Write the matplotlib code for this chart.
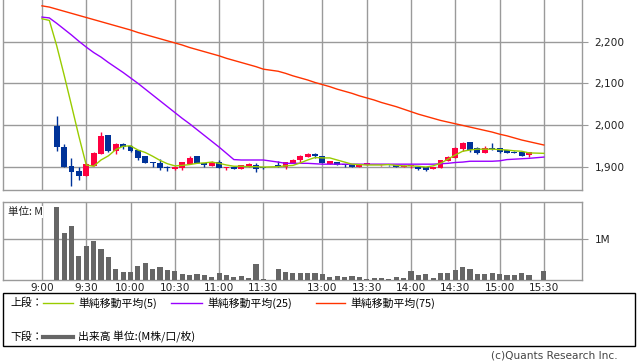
import matplotlib
matplotlib.use("Agg")
import matplotlib.pyplot as plt
from matplotlib.patches import Rectangle
from matplotlib.lines import Line2D
from matplotlib.ticker import FuncFormatter

plt.rcParams['font.family'] = ['DejaVu Sans', 'Noto Sans CJK JP']

# ---------------- data ----------------
candle_times = ['9:10', '9:15', '9:20', '9:25', '9:30', '9:35', '9:40', '9:45', '9:50', '9:55',
                '10:00', '10:05', '10:10', '10:15', '10:20', '10:25', '10:30', '10:35', '10:40', '10:45',
                '10:50', '10:55', '11:00', '11:05', '11:10', '11:15', '11:20', '11:25', '11:30',
                '12:30', '12:35', '12:40', '12:45', '12:50', '12:55', '13:00', '13:05', '13:10', '13:15',
                '13:20', '13:25', '13:30', '13:35', '13:40', '13:45', '13:50', '13:55', '14:00', '14:05',
                '14:10', '14:15', '14:20', '14:25', '14:30', '14:35', '14:40', '14:45', '14:50', '14:55',
                '15:00', '15:05', '15:10', '15:15', '15:20', '15:30']
opens = [1998, 1948, 1901, 1890, 1878, 1902, 1930, 1976, 1938, 1954,
         1950, 1940, 1926, 1911, 1910, 1900, 1895, 1898, 1907, 1926,
         1909, 1902, 1911, 1897, 1900, 1895, 1900, 1905, 1899,
         1905, 1899, 1908, 1915, 1924, 1930, 1926, 1906, 1911, 1906,
         1905, 1900, 1903, 1904, 1903, 1905, 1903, 1900, 1901, 1900,
         1899, 1894, 1898, 1914, 1921, 1943, 1959, 1944, 1934, 1946,
         1944, 1940, 1936, 1936, 1927, 1931]
highs = [2022, 1954, 1920, 1899, 1908, 1936, 1984, 1976, 1957, 1958,
         1951, 1941, 1926, 1912, 1918, 1901, 1901, 1912, 1926, 1926,
         1910, 1914, 1915, 1900, 1901, 1904, 1910, 1910, 1899,
         1914, 1911, 1919, 1928, 1932, 1932, 1926, 1914, 1911, 1906,
         1905, 1906, 1908, 1905, 1904, 1905, 1904, 1903, 1905, 1900,
         1899, 1900, 1916, 1925, 1948, 1960, 1959, 1948, 1950, 1956,
         1946, 1941, 1938, 1936, 1935, 1931]
lows = [1938, 1900, 1854, 1868, 1877, 1902, 1930, 1935, 1931, 1942,
        1936, 1917, 1908, 1900, 1892, 1890, 1893, 1892, 1906, 1908,
        1899, 1902, 1896, 1893, 1894, 1895, 1900, 1887, 1895,
        1900, 1894, 1908, 1908, 1924, 1922, 1908, 1906, 1903, 1900,
        1900, 1900, 1903, 1903, 1902, 1902, 1900, 1900, 1898, 1893,
        1889, 1894, 1898, 1914, 1921, 1938, 1936, 1930, 1934, 1940,
        1933, 1934, 1932, 1926, 1924, 1930]
closes = [1948, 1900, 1888, 1878, 1906, 1932, 1974, 1938, 1954, 1948,
          1938, 1922, 1910, 1908, 1898, 1896, 1900, 1911, 1922, 1910,
          1904, 1911, 1896, 1900, 1895, 1903, 1907, 1895, 1896,
          1900, 1911, 1916, 1925, 1930, 1926, 1908, 1914, 1903, 1903,
          1900, 1906, 1908, 1903, 1903, 1903, 1900, 1902, 1904, 1894,
          1891, 1900, 1916, 1924, 1944, 1958, 1940, 1932, 1944, 1943,
          1935, 1934, 1934, 1926, 1935, 1930]
volumes = [1.77, 1.14, 1.31, 0.59, 0.83, 0.95, 0.75, 0.56, 0.27, 0.20,
           0.20, 0.34, 0.42, 0.27, 0.32, 0.24, 0.21, 0.14, 0.13, 0.14,
           0.12, 0.08, 0.18, 0.12, 0.08, 0.10, 0.06, 0.39, 0.02,
           0.26, 0.20, 0.16, 0.16, 0.16, 0.16, 0.14, 0.08, 0.10, 0.08,
           0.10, 0.08, 0.03, 0.06, 0.06, 0.03, 0.08, 0.04, 0.22, 0.13,
           0.14, 0.06, 0.16, 0.18, 0.24, 0.32, 0.27, 0.15, 0.14, 0.17,
           0.15, 0.13, 0.13, 0.18, 0.13, 0.22]

ma_times = ['9:00', '9:05'] + candle_times
ma5 = [2255, 2251, 2190, 2120, 2047, 1973, 1904, 1901, 1916, 1926, 1941, 1949,
       1950, 1940, 1934, 1925, 1915, 1907, 1902, 1903, 1905, 1908,
       1909, 1911, 1908, 1904, 1901, 1901, 1900, 1900, 1899,
       1900, 1902, 1903, 1909, 1916, 1922, 1921, 1921, 1916, 1911,
       1906, 1905, 1904, 1904, 1904, 1905, 1903, 1902, 1902, 1901,
       1899, 1902, 1908, 1918, 1928, 1937, 1940, 1942, 1942, 1942,
       1941, 1940, 1938, 1937, 1933, 1932]
ma25 = [2259, 2257, 2244, 2230, 2216, 2201, 2187, 2174, 2163, 2150, 2138, 2126,
        2113, 2100, 2086, 2072, 2058, 2044, 2030, 2016, 2003, 1989,
        1975, 1961, 1947, 1932, 1917, 1916, 1916, 1916, 1916,
        1911, 1908, 1908, 1908, 1908, 1907, 1906, 1906, 1906, 1906,
        1906, 1906, 1906, 1906, 1906, 1906, 1906, 1906, 1906, 1906,
        1906, 1906, 1907, 1908, 1910, 1911, 1913, 1913, 1913, 1913,
        1914, 1917, 1918, 1919, 1920, 1923]
ma75 = [2286, 2283, 2278, 2273, 2268, 2263, 2258, 2253, 2248, 2243, 2238, 2233,
        2228, 2222, 2217, 2212, 2207, 2202, 2197, 2192, 2186, 2181,
        2176, 2171, 2166, 2160, 2155, 2150, 2145, 2140, 2134,
        2129, 2124, 2118, 2113, 2108, 2102, 2097, 2092, 2086, 2081,
        2076, 2070, 2065, 2060, 2054, 2049, 2044, 2038, 2032, 2026,
        2021, 2016, 2011, 2007, 2003, 1999, 1995, 1991, 1987, 1983,
        1978, 1974, 1969, 1964, 1960, 1952]

tick_labels = ['9:00', '9:30', '10:00', '10:30', '11:00', '11:30',
               '13:00', '13:30', '14:00', '14:30', '15:00', '15:30']
price_ticks = [1900, 2000, 2100, 2200]

# ---------------- helpers ----------------
def slot(t):
    h, m = map(int, t.split(':'))
    mins = h * 60 + m
    if mins <= 11 * 60 + 30:
        return (mins - 9 * 60) / 5.0
    return (mins - (12 * 60 + 30)) / 5.0 + 32

W, H = 638, 362
fig = plt.figure(figsize=(W / 100, H / 100), dpi=100)

def fx(px):
    return px / W

def fy(py):
    return 1 - py / H

GRID = '#9a9a9a'
UP = '#ff0040'
DOWN = '#003399'

ax = fig.add_axes([fx(3), fy(190), fx(582) - fx(3), fy(0) - fy(190)])
axv = fig.add_axes([fx(3), fy(280), fx(582) - fx(3), fy(201.7) - fy(280)])

xlim = (-5.28, 73.17)
for a in (ax, axv):
    a.set_xlim(*xlim)
    for s in a.spines.values():
        s.set_color(GRID)
        s.set_linewidth(1.0)
    a.set_xticks([slot(t) for t in tick_labels])
    a.grid(True, color=GRID, linewidth=1.0)
    a.set_axisbelow(True)
    a.yaxis.tick_right()
    a.tick_params(axis='y', length=4, color=GRID, pad=5, labelsize=7.6, labelcolor='#222222')
ax.spines['top'].set_visible(False)

# candles
xs = [slot(t) for t in candle_times]
for x, o, h, l, c in zip(xs, opens, highs, lows, closes):
    col = UP if c >= o else DOWN
    ax.vlines(x, l, h, color=col, linewidth=1.0, zorder=3)
    body = max(abs(c - o), 1.2)
    ax.bar(x, body, bottom=min(o, c), width=0.8, color=col, linewidth=0, zorder=4)

mx = [slot(t) for t in ma_times]
ax.plot(mx, ma75, color='#ff3300', linewidth=1.0, zorder=5)
ax.plot(mx, ma25, color='#9900ff', linewidth=1.0, zorder=5)
ax.plot(mx, ma5, color='#99cc00', linewidth=1.0, zorder=5)

ax.set_ylim(1844, 2300)
ax.set_yticks(price_ticks)
ax.yaxis.set_major_formatter(FuncFormatter(lambda v, p: f'{int(v):,}'))
ax.tick_params(axis='x', length=0, labelbottom=False)

# volume
axv.bar(xs, volumes, width=0.7, color='#666666', linewidth=0, zorder=3)
axv.set_ylim(0, 1.887)
axv.set_yticks([1.0])
axv.set_yticklabels(['1M'])
axv.set_xticklabels(tick_labels)
axv.tick_params(axis='x', length=0, pad=2, labelsize=7.6, labelcolor='#222222')
axv.text(0.008, 0.93, '単位: M', transform=axv.transAxes, ha='left', va='top',
         fontsize=7.6, family=['Noto Sans CJK JP', 'DejaVu Sans'], color='#222222',
         bbox=dict(facecolor='white', edgecolor='none', pad=0.5), zorder=6)

# legend box
fig.patches.append(Rectangle((fx(3), fy(346)), fx(635) - fx(3), fy(293) - fy(346),
                             transform=fig.transFigure, fill=False, edgecolor='black', linewidth=1.0))
jp = ['Noto Sans CJK JP', 'DejaVu Sans']
fs = 7.8
fig.text(fx(10), fy(303), '上段：', fontsize=fs, family=jp, va='center', ha='left')
items = [(43, 73, 78, '#99cc00', '単純移動平均(5)'),
         (171, 202, 207, '#9900ff', '単純移動平均(25)'),
         (316, 345, 350, '#ff3300', '単純移動平均(75)')]
for x0, x1, tx, col, lab in items:
    fig.lines.append(Line2D([fx(x0), fx(x1)], [fy(303), fy(303)], transform=fig.transFigure,
                            color=col, linewidth=1.0))
    fig.text(fx(tx), fy(303), lab, fontsize=fs, family=jp, va='center', ha='left')
fig.text(fx(10), fy(337), '下段：', fontsize=fs, family=jp, va='center', ha='left')
fig.lines.append(Line2D([fx(43), fx(73)], [fy(337), fy(337)], transform=fig.transFigure,
                        color='#666666', linewidth=3.0))
fig.text(fx(78), fy(337), '出来高 単位:(M株/口/枚)', fontsize=fs, family=jp, va='center', ha='left')

fig.text(fx(618), fy(356), '(c)Quants Research Inc.', fontsize=7.6, ha='right', va='center',
         color='#444444')

fig.savefig('out.png', dpi=100)
